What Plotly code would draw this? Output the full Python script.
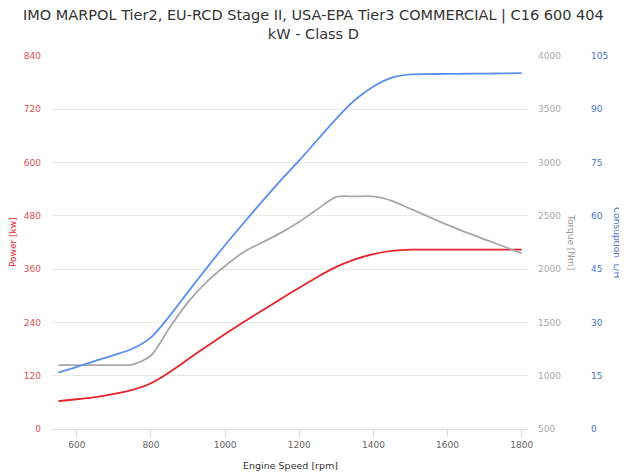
import plotly.graph_objects as go

rpm = [550, 600, 650, 700, 750, 800, 850, 900, 950, 1000, 1050, 1100, 1150, 1200,
       1250, 1300, 1350, 1400, 1450, 1500, 1550, 1600, 1650, 1700, 1750, 1800]
power_kw = [63, 67, 72, 79, 88, 103, 128, 157, 186, 214, 241, 267, 293, 318,
            343, 365, 382, 394, 401, 404, 404, 404, 404, 404, 404, 404]
torque_nm = [1100, 1100, 1100, 1100, 1105, 1190, 1450, 1690, 1880, 2030, 2160, 2250, 2340, 2445,
             2565, 2678, 2682, 2682, 2640, 2565, 2490, 2415, 2345, 2280, 2215, 2148]
consumption_lh = [15.9, 17.5, 19.2, 20.8, 22.6, 25.8, 31.8, 38.6, 45.3, 51.8, 58.0, 64.1, 70.0, 75.6,
                  81.5, 87.4, 92.6, 96.4, 98.9, 99.8, 99.9, 99.95, 100.0, 100.05, 100.1, 100.2]

x_ticks = [600, 800, 1000, 1200, 1400, 1600, 1800]
power_ticks = [0, 120, 240, 360, 480, 600, 720, 840]
torque_ticks = [500, 1000, 1500, 2000, 2500, 3000, 3500, 4000]
cons_ticks = [0, 15, 30, 45, 60, 75, 90, 105]

title_text = "IMO MARPOL Tier2, EU-RCD Stage II, USA-EPA Tier3 COMMERCIAL | C16 600 404<br>kW - Class D"

RED = "#e3242b"
GRAY = "#a8a8a8"
BLUE = "#5b8ef0"
FONT = "DejaVu Sans"
SMOOTH = 0.8

OFF = 8  # page body margin of the browser
W, H = 627 - OFF, 473 - OFF
# plot area in window pixels
PL, PT, PR, PB = 52, 56, 528, 429
L, T, B = PL - OFF, PT - OFF, H - (PB - OFF)
paper_w = W - L
paper_h = H - T - B
dom_r = (PR - PL) / paper_w


def px_x(px):
    return (px - OFF - L) / paper_w


def px_y(py):
    return (H - B - (py - OFF)) / paper_h


fig = go.Figure()
fig.add_trace(go.Scatter(x=rpm, y=power_kw, mode="lines", name="Power",
                         line=dict(color=RED, width=1.8, shape="spline", smoothing=SMOOTH),
                         xaxis="x", yaxis="y"))
fig.add_trace(go.Scatter(x=rpm, y=torque_nm, mode="lines", name="Torque",
                         line=dict(color=GRAY, width=1.8, shape="spline", smoothing=SMOOTH),
                         xaxis="x", yaxis="y2"))
fig.add_trace(go.Scatter(x=rpm, y=consumption_lh, mode="lines", name="Consumption",
                         line=dict(color=BLUE, width=1.8, shape="spline", smoothing=SMOOTH),
                         xaxis="x", yaxis="y3"))

fig.update_layout(
    width=W, height=H,
    margin=dict(l=L, r=0, t=T, b=B, autoexpand=False),
    paper_bgcolor="white", plot_bgcolor="white",
    showlegend=False,
    font=dict(family=FONT, size=9),
    xaxis=dict(domain=[0, dom_r], range=[533, 1817], tickvals=x_ticks,
               ticktext=[str(v) for v in x_ticks],
               showgrid=False, zeroline=False,
               showline=True, linecolor="#e0e0e0", linewidth=1,
               ticks="outside", ticklen=7, tickcolor="#d8d8d8",
               tickfont=dict(family=FONT, size=9, color="#666666")),
    yaxis=dict(range=[0, 840], tickvals=power_ticks, ticktext=[str(v) for v in power_ticks],
               showgrid=True, gridcolor="#e8e8e8", gridwidth=1, zeroline=False,
               showline=False, ticks="", ticklabelstandoff=10,
               tickfont=dict(family=FONT, size=9, color="#e05055")),
    yaxis2=dict(range=[500, 4000], tickvals=torque_ticks, ticktext=[str(v) for v in torque_ticks],
                overlaying="y", side="right", anchor="x",
                showgrid=False, zeroline=False, showline=False, ticks="",
                ticklabelstandoff=9,
                tickfont=dict(family=FONT, size=9, color="#aaaaaa")),
    yaxis3=dict(range=[0, 105], tickvals=cons_ticks, ticktext=[str(v) for v in cons_ticks],
                overlaying="y", side="right", anchor="free",
                position=px_x(585),
                showgrid=False, zeroline=False, showline=False, ticks="",
                ticklabelstandoff=5,
                tickfont=dict(family=FONT, size=9, color="#4a74c8")),
)

fig.add_annotation(text=title_text, x=px_x(313), y=px_y(5), xref="paper", yref="paper",
                   xanchor="center", yanchor="top", showarrow=False, align="center",
                   font=dict(family=FONT, size=14.5, color="#333333"))

ann = [
    dict(text="Power [kw]", x=px_x(13), textangle=-90, color=RED),
    dict(text="Torque [Nm]", x=px_x(571), textangle=90, color="#999999"),
    dict(text="Consuption  L/H", x=px_x(617), textangle=90, color="#4a74c8"),
]
for a in ann:
    fig.add_annotation(text=a["text"], x=a["x"], y=px_y(242), xref="paper", yref="paper",
                       xanchor="center", yanchor="middle", textangle=a["textangle"],
                       showarrow=False, font=dict(family=FONT, size=9, color=a["color"]))
fig.add_annotation(text="Engine Speed [rpm]", x=px_x(290), y=px_y(465),
                   xref="paper", yref="paper", xanchor="center", yanchor="middle",
                   showarrow=False, font=dict(family=FONT, size=9.5, color="#333333"))

fig.write_html("out.html")
